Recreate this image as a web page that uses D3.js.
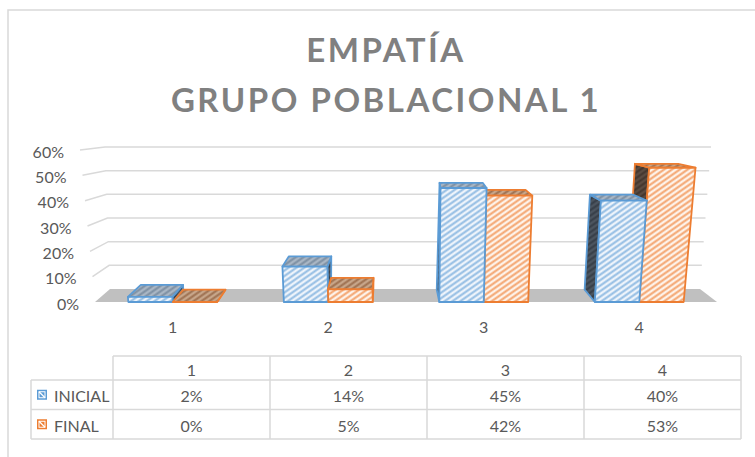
<!DOCTYPE html>
<html>
<head>
<meta charset="utf-8">
<script src="https://cdn.jsdelivr.net/npm/d3@7"></script>
<style>
  html, body { margin: 0; padding: 0; background: #ffffff; }
  text { font-family: Lato, "Open Sans", "Liberation Sans", sans-serif; }
</style>
</head>
<body>
<script>
// ---------- data ----------
const titleLines = ["EMPATÍA", "GRUPO POBLACIONAL 1"];
const categories = ["1", "2", "3", "4"];
const seriesNames = ["INICIAL", "FINAL"];
const inicialValues = [0.02, 0.14, 0.45, 0.40];
const finalValues = [0.00, 0.05, 0.42, 0.53];
const yTickValues = [0, 0.1, 0.2, 0.3, 0.4, 0.5, 0.6];
const seriesValues = [inicialValues, finalValues];

// ---------- setup ----------
const W = 755, H = 457;
const svg = d3.select("body").append("svg").attr("width", W).attr("height", H);
const defs = svg.append("defs");

const seriesColor = d3.scaleOrdinal().domain(seriesNames).range(["#5B9BD5", "#ED7D31"]);
const faceStyle = {
  INICIAL: { front: ["#EEF4FB", "#92BCE3"], top: ["#A9B6C4", "#7D8FA2"], side: ["#4C555F", "#363E47"] },
  FINAL:   { front: ["#FEF3EA", "#F4A46E"], top: ["#C7A68A", "#9D7050"], side: ["#5A4B41", "#42352D"] }
};
function makePattern(id, bg, fg, spacing, sw) {
  const p = defs.append("pattern").attr("id", id).attr("patternUnits", "userSpaceOnUse")
    .attr("width", spacing).attr("height", spacing).attr("patternTransform", "rotate(55)");
  p.append("rect").attr("width", spacing).attr("height", spacing).attr("fill", bg);
  p.append("line").attr("x1", spacing / 2).attr("x2", spacing / 2).attr("y1", 0).attr("y2", spacing)
    .attr("stroke", fg).attr("stroke-width", sw);
}
seriesNames.forEach(s => {
  ["front", "top", "side"].forEach(f => makePattern(`p-${s}-${f}`, faceStyle[s][f][0], faceStyle[s][f][1], 4.5, 2));
});

// chart border
svg.append("rect").attr("x", 8).attr("y", 10).attr("width", 760).attr("height", 470)
  .attr("fill", "none").attr("stroke", "#d9d9d9").attr("stroke-width", 1.5);

// title
svg.append("g").selectAll("text").data(titleLines).join("text")
  .attr("x", 386).attr("y", (d, i) => 62 + i * 50)
  .attr("text-anchor", "middle").attr("fill", "#808080")
  .attr("font-size", 33).attr("font-weight", 700).attr("letter-spacing", "2.5px")
  .text(d => d);

// ---------- 3D projection ----------
const xb = d3.scaleBand().domain(categories).range([0, 1]);
const xs = d3.scaleBand().domain(seriesNames).range([0, xb.bandwidth()]).paddingOuter(0.75).paddingInner(0);
const yv = d3.scaleLinear().domain([0, 0.6]).range([0, 1]);
const frontY = d3.scaleLinear().domain([0, 1]).range([302, 150]);
const backY = d3.scaleLinear().domain([0, 1]).range([289, 147]);
const frontL = d3.scaleLinear().domain([0, 1]).range([95, 80]);
const frontR = d3.scaleLinear().domain([0, 1]).range([717, 732]);
const backL = d3.scaleLinear().domain([0, 1]).range([110, 105]);
const backR = d3.scaleLinear().domain([0, 1]).range([700, 711]);
function P(xn, yn, z) {
  const xf = frontL(yn) + (frontR(yn) - frontL(yn)) * xn;
  const xk = backL(yn) + (backR(yn) - backL(yn)) * xn;
  return [xf + (xk - xf) * z, frontY(yn) + (backY(yn) - frontY(yn)) * z];
}
const poly = pts => "M" + pts.map(p => p.join(",")).join("L") + "Z";

// floor
svg.append("path").attr("d", poly([P(0, 0, 0), P(1, 0, 0), P(1, 0, 1), P(0, 0, 1)]))
  .attr("fill", "#c0c0c0");

// gridlines (side wall + back wall)
svg.append("g").selectAll("path").data(yTickValues.filter(v => v > 0)).join("path")
  .attr("d", v => { const y = yv(v); return "M" + [P(0, y, 0), P(0, y, 1), P(1, y, 1)].map(p => p.join(",")).join("L"); })
  .attr("fill", "none").attr("stroke", "#d9d9d9").attr("stroke-width", 1.5);

// y labels
const fmt = d3.format(".0%");
svg.append("g").selectAll("text").data(yTickValues).join("text")
  .attr("x", v => P(0, yv(v), 0)[0] - 16).attr("y", v => P(0, yv(v), 0)[1] + 1)
  .attr("text-anchor", "end").attr("dominant-baseline", "central")
  .attr("font-size", 16).attr("fill", "#595959").text(v => fmt(v));

// category labels
svg.append("g").selectAll("text").data(categories).join("text")
  .attr("x", c => P(xb(c) + xb.bandwidth() / 2, 0, 0)[0]).attr("y", 326)
  .attr("text-anchor", "middle").attr("dominant-baseline", "central")
  .attr("font-size", 16).attr("fill", "#595959").text(c => c);

// bars
const zd = 0.95;
const bars = [];
categories.forEach((c, i) => seriesNames.forEach((s, j) => {
  const x0 = xb(c) + xs(s), x1 = x0 + xs.bandwidth();
  bars.push({ c, s, v: seriesValues[j][i], x0, x1 });
}));
bars.forEach(b => { b.dist = Math.abs((b.x0 + b.x1) / 2 - 0.5); });
bars.sort((a, b) => b.dist - a.dist);
const barG = svg.append("g");
bars.forEach(b => {
  const y = yv(b.v), col = seriesColor(b.s);
  const g = barG.append("g").attr("stroke", col).attr("stroke-width", 1.8).attr("stroke-linejoin", "round");
  if (P(b.x0, 0, zd)[0] < P(b.x0, 0, 0)[0]) {
    g.append("path").attr("d", poly([P(b.x0, 0, 0), P(b.x0, y, 0), P(b.x0, y, zd), P(b.x0, 0, zd)]))
      .attr("fill", `url(#p-${b.s}-side)`);
  }
  if (P(b.x1, 0, zd)[0] > P(b.x1, 0, 0)[0]) {
    g.append("path").attr("d", poly([P(b.x1, 0, 0), P(b.x1, y, 0), P(b.x1, y, zd), P(b.x1, 0, zd)]))
      .attr("fill", `url(#p-${b.s}-side)`);
  }
  g.append("path").attr("d", poly([P(b.x0, y, 0), P(b.x1, y, 0), P(b.x1, y, zd), P(b.x0, y, zd)]))
    .attr("fill", `url(#p-${b.s}-top)`);
  if (b.v > 0) {
    g.append("path").attr("d", poly([P(b.x0, 0, 0), P(b.x1, 0, 0), P(b.x1, y, 0), P(b.x0, y, 0)]))
      .attr("fill", `url(#p-${b.s}-front)`);
  }
});

// ---------- data table ----------
const tx = d3.scaleBand().domain(categories).range([113, 741]);
const ty = d3.scaleBand().domain(seriesNames).range([380, 439]);
const headTop = 356, tLeft = 31;
const tg = svg.append("g").attr("stroke", "#d9d9d9").attr("stroke-width", 1.5);
tg.append("line").attr("x1", tx.range()[0]).attr("x2", tx.range()[1]).attr("y1", headTop).attr("y2", headTop);
tg.selectAll("line.h").data([ty.range()[0], ...seriesNames.map(s => ty(s) + ty.bandwidth())]).join("line")
  .attr("class", "h").attr("x1", tLeft).attr("x2", tx.range()[1]).attr("y1", d => d).attr("y2", d => d);
tg.append("line").attr("x1", tLeft).attr("x2", tLeft).attr("y1", ty.range()[0]).attr("y2", ty.range()[1]);
tg.selectAll("line.v").data([...categories.map(c => tx(c)), tx.range()[1]]).join("line")
  .attr("class", "v").attr("x1", d => d).attr("x2", d => d).attr("y1", headTop).attr("y2", ty.range()[1]);

const tt = svg.append("g").attr("font-size", 16).attr("fill", "#595959");
tt.selectAll("text.hd").data(categories).join("text").attr("class", "hd")
  .attr("x", c => tx(c) + tx.bandwidth() / 2).attr("y", (headTop + ty.range()[0]) / 2 + 1)
  .attr("text-anchor", "middle").attr("dominant-baseline", "central").text(c => c);
seriesNames.forEach((s, j) => {
  const cy = ty(s) + ty.bandwidth() / 2 + 1;
  tt.selectAll(`text.v${j}`).data(categories).join("text").attr("class", `v${j}`)
    .attr("x", c => tx(c) + tx.bandwidth() / 2).attr("y", cy)
    .attr("text-anchor", "middle").attr("dominant-baseline", "central")
    .text((c, i) => fmt(seriesValues[j][i]));
  tt.append("text").attr("x", 54).attr("y", cy).attr("dominant-baseline", "central").text(s);
  const k = svg.append("g").attr("transform", `translate(37,${cy - 6})`);
  k.append("rect").attr("width", 10).attr("height", 10).attr("fill", seriesColor(s));
  k.append("rect").attr("x", 2).attr("y", 2).attr("width", 6).attr("height", 6).attr("fill", "none")
    .attr("stroke", "#ffffff").attr("stroke-width", 1);
  k.append("line").attr("x1", 2).attr("y1", 2).attr("x2", 8).attr("y2", 8).attr("stroke", "#ffffff").attr("stroke-width", 1.2);
});
</script>
</body>
</html>
